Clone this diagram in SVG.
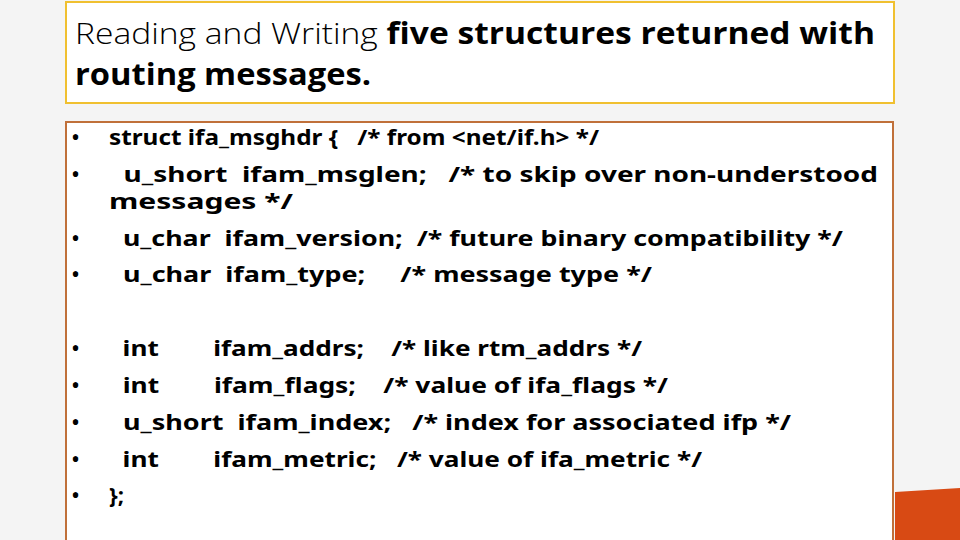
<svg xmlns="http://www.w3.org/2000/svg" width="960" height="540" viewBox="0 0 960 540">
<style>
.b{font-family:"Noto Sans","Open Sans",sans-serif;font-weight:bold;font-size:22px;fill:#000;white-space:pre}
.d{font-family:"Noto Sans",sans-serif;font-size:24px;fill:#000}
</style>
<rect width="960" height="540" fill="#f4f4f4"/>
<polygon points="895,492 960,488 960,540 895,540" fill="#d84a14"/>
<g id="title">
<rect x="66" y="2" width="828" height="101" fill="#fff" stroke="#f0c030" stroke-width="2"/>
<text x="75" y="44" font-family="'Open Sans',sans-serif" font-size="30" textLength="800" lengthAdjust="spacingAndGlyphs"><tspan font-weight="300">Reading and Writing </tspan><tspan font-weight="bold">five structures returned with</tspan></text>
<text x="75" y="85" font-family="'Open Sans',sans-serif" font-size="30" font-weight="bold" textLength="296" lengthAdjust="spacingAndGlyphs">routing messages.</text>
</g>
<g id="body">
<rect x="66" y="122" width="827" height="420" fill="#fff" stroke="#c0703a" stroke-width="2"/>
<g class="d">
<text x="71" y="146">•</text><text x="71" y="183">•</text><text x="71" y="247">•</text><text x="71" y="283">•</text>
<text x="71" y="357">•</text><text x="71" y="394">•</text><text x="71" y="431">•</text><text x="71" y="468">•</text><text x="71" y="504">•</text>
</g>
<text class="b" x="109" y="145" textLength="490" lengthAdjust="spacingAndGlyphs">struct ifa_msghdr {   /* from &lt;net/if.h&gt; */</text>
<text class="b" x="109" y="182" textLength="769" lengthAdjust="spacingAndGlyphs">  u_short  ifam_msglen;   /* to skip over non-understood</text>
<text class="b" x="109" y="209" textLength="184" lengthAdjust="spacingAndGlyphs">messages */</text>
<text class="b" x="109" y="246" textLength="734" lengthAdjust="spacingAndGlyphs">  u_char  ifam_version;  /* future binary compatibility */</text>
<text class="b" x="109" y="282" textLength="543" lengthAdjust="spacingAndGlyphs">  u_char  ifam_type;     /* message type */</text>
<text class="b" x="109" y="356" textLength="533" lengthAdjust="spacingAndGlyphs">  int        ifam_addrs;    /* like rtm_addrs */</text>
<text class="b" x="109" y="393" textLength="559" lengthAdjust="spacingAndGlyphs">  int        ifam_flags;    /* value of ifa_flags */</text>
<text class="b" x="109" y="430" textLength="682" lengthAdjust="spacingAndGlyphs">  u_short  ifam_index;   /* index for associated ifp */</text>
<text class="b" x="109" y="467" textLength="593" lengthAdjust="spacingAndGlyphs">  int        ifam_metric;   /* value of ifa_metric */</text>
<text class="b" x="109" y="503">};</text>
</g>
</svg>
